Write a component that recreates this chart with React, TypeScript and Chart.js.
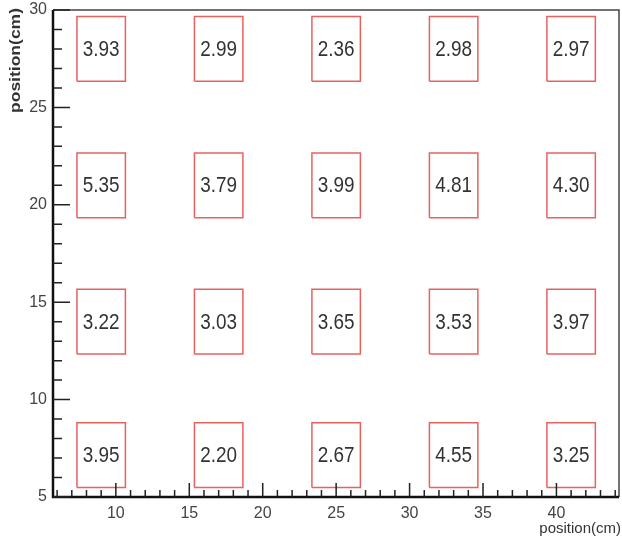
import React, { useEffect, useRef } from "react";
import { Chart, registerables } from "chart.js";

Chart.register(...registerables);

// Data
const colCenters = [9, 17, 25, 33, 41];
const rowCenters = [28, 21, 14, 7.15];
const cellValues = [
  ["3.93", "2.99", "2.36", "2.98", "2.97"],
  ["5.35", "3.79", "3.99", "4.81", "4.30"],
  ["3.22", "3.03", "3.65", "3.53", "3.97"],
  ["3.95", "2.20", "2.67", "4.55", "3.25"],
];
const xTitle = "position(cm)";
const yTitle = "position(cm)";

const X_MIN = 5.72;
const X_MAX = 44.26;
const Y_MIN = 5;
const Y_MAX = 30;
const HALF_W = 1.65;
const HALF_H = 1.66;

const BOX_COLOR = "rgba(228,80,80,0.9)";
const TEXT_COLOR = "#333";

function buildDatasets() {
  const ds: any[] = [];
  rowCenters.forEach((cy) => {
    colCenters.forEach((cx) => {
      ds.push({
        data: [
          { x: cx - HALF_W, y: cy - HALF_H },
          { x: cx + HALF_W, y: cy - HALF_H },
          { x: cx + HALF_W, y: cy + HALF_H },
          { x: cx - HALF_W, y: cy + HALF_H },
          { x: cx - HALF_W, y: cy - HALF_H },
        ],
        showLine: true,
        borderColor: BOX_COLOR,
        borderWidth: 1.5,
        pointRadius: 0,
        fill: false,
        tension: 0,
      });
    });
  });
  return ds;
}

const framePlugin = {
  id: "rootFrame",
  afterDatasetsDraw(chart: any) {
    const ctx = chart.ctx;
    const xs = chart.scales.x;
    const ys = chart.scales.y;
    const { left, right, top, bottom } = chart.chartArea;

    // cell labels
    ctx.save();
    ctx.fillStyle = TEXT_COLOR;
    ctx.font = "22px 'Liberation Sans', Arial, sans-serif";
    ctx.textAlign = "center";
    ctx.textBaseline = "middle";
    rowCenters.forEach((cy, r) => {
      colCenters.forEach((cx, c) => {
        const px = xs.getPixelForValue(cx);
        const py = ys.getPixelForValue(cy);
        ctx.save();
        ctx.translate(px, py + 1);
        ctx.scale(0.86, 1);
        ctx.fillText(cellValues[r][c], 0, 0);
        ctx.restore();
      });
    });
    ctx.restore();

    // frame
    ctx.save();
    ctx.strokeStyle = "#444";
    ctx.lineWidth = 1.5;
    ctx.beginPath();
    ctx.moveTo(left, top);
    ctx.lineTo(right, top);
    ctx.lineTo(right, bottom);
    ctx.stroke();
    ctx.strokeStyle = "#111";
    ctx.lineWidth = 2.5;
    ctx.beginPath();
    ctx.moveTo(left, top);
    ctx.lineTo(left, bottom);
    ctx.lineTo(right, bottom);
    ctx.stroke();

    // ticks
    ctx.lineWidth = 1.5;
    ctx.strokeStyle = "#222";
    ctx.beginPath();
    for (let v = Math.ceil(X_MIN); v <= X_MAX; v += 1) {
      const px = xs.getPixelForValue(v);
      const len = v % 5 === 0 ? 14 : 7;
      ctx.moveTo(px, bottom);
      ctx.lineTo(px, bottom - len);
    }
    for (let v = Math.ceil(Y_MIN); v <= Y_MAX; v += 1) {
      const py = ys.getPixelForValue(v);
      const len = v % 5 === 0 ? 17 : 9;
      ctx.moveTo(left, py);
      ctx.lineTo(left + len, py);
    }
    ctx.stroke();

    // axis titles
    ctx.fillStyle = TEXT_COLOR;
    ctx.font = "15px 'Liberation Sans', Arial, sans-serif";
    ctx.textAlign = "right";
    ctx.textBaseline = "alphabetic";
    ctx.fillText(xTitle, chart.width - 1, 533);

    ctx.save();
    ctx.translate(16, 8);
    ctx.rotate(-Math.PI / 2);
    ctx.scale(1.25, 1);
    ctx.font = "bold 14px 'Liberation Sans', Arial, sans-serif";
    ctx.textAlign = "right";
    ctx.textBaseline = "middle";
    ctx.fillText(yTitle, 0, 0);
    ctx.restore();
    ctx.restore();
  },
};

export default function App() {
  const ref = useRef<HTMLCanvasElement | null>(null);
  useEffect(() => {
    if (!ref.current) return;
    const chart = new Chart(ref.current, {
      type: "scatter",
      data: { datasets: buildDatasets() },
      options: {
        responsive: false,
        animation: false,
        devicePixelRatio: 1,
        layout: { padding: { top: 10, right: 3, left: 0, bottom: 0 } },
        plugins: { legend: { display: false }, tooltip: { enabled: false } },
        scales: {
          x: {
            type: "linear",
            min: X_MIN,
            max: X_MAX,
            grid: { display: false, drawTicks: false },
            border: { display: false },
            ticks: {
              stepSize: 5,
              includeBounds: false,
              padding: 7,
              color: "#444",
              font: { family: "'Liberation Sans', Arial, sans-serif", size: 16 },
              maxRotation: 0,
            },
            afterFit: (s: any) => {
              s.height = 44;
              s.paddingLeft = 0;
              s.paddingRight = 0;
            },
          },
          y: {
            type: "linear",
            min: Y_MIN,
            max: Y_MAX,
            grid: { display: false, drawTicks: false },
            border: { display: false },
            ticks: {
              stepSize: 5,
              padding: 6,
              color: "#444",
              font: { family: "'Liberation Sans', Arial, sans-serif", size: 16 },
            },
            afterFit: (s: any) => {
              s.width = 53;
              s.paddingTop = 0;
              s.paddingBottom = 0;
            },
          },
        },
      },
      plugins: [framePlugin],
    } as any);
    return () => chart.destroy();
  }, []);
  return (
    <div style={{ position: "absolute", left: 0, top: 0, width: 622, height: 541, background: "#fff" }}>
      <canvas ref={ref} width={622} height={541} />
    </div>
  );
}
